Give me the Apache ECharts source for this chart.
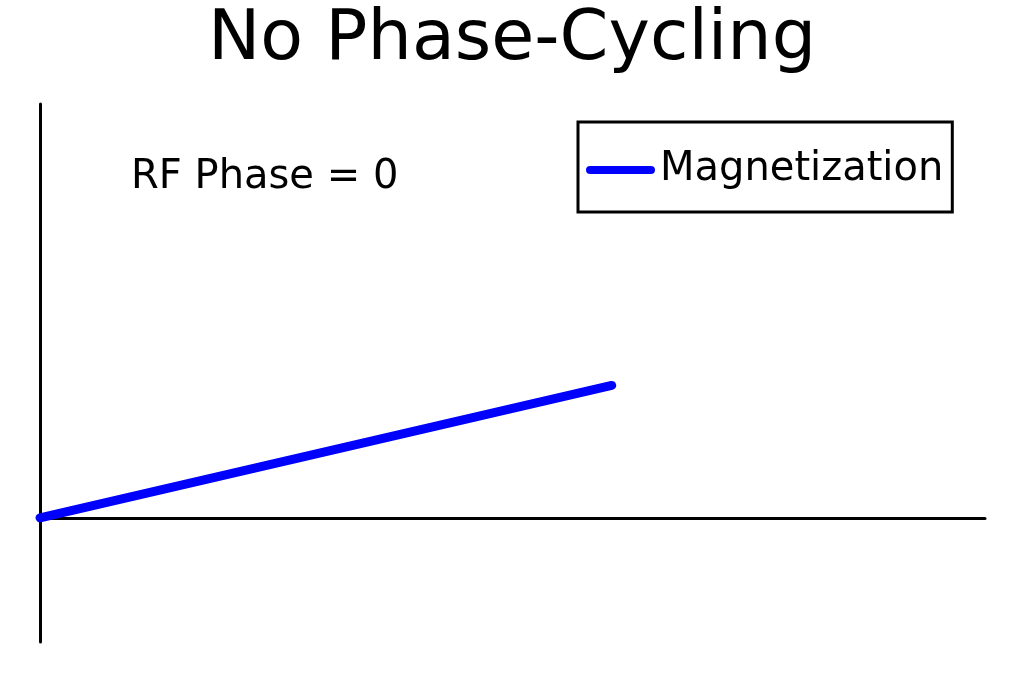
<!DOCTYPE html>
<html>
<head>
<meta charset="utf-8">
<style>
  html, body { margin: 0; padding: 0; background: #fff; }
  #chart { width: 1024px; height: 683px; }
</style>
<script src="https://cdn.jsdelivr.net/npm/echarts@6/dist/echarts.min.js"></script>
</head>
<body>
<div id="chart"></div>
<script>
var xValues = [0, 0.605];
var yValues = [0, 0.32];
var seriesName = 'Magnetization';
var annotation = 'RF Phase = 0';

var points = xValues.map(function (x, i) { return [x, yValues[i]]; });

var myChart = echarts.init(document.getElementById('chart'), null, { renderer: 'canvas' });
var font = 'DejaVu Sans';

myChart.setOption({
    animation: false,
    backgroundColor: '#fff',
    title: {
        text: 'No Phase-Cycling',
        left: 'center',
        top: 1,
        textStyle: { fontFamily: font, fontSize: 70, fontWeight: 'normal', color: '#000' }
    },
    legend: {
        left: 578,
        top: 122,
        padding: [26, 9, 20, 8],
        borderColor: '#000',
        borderWidth: 3,
        itemWidth: 69,
        itemHeight: 9,
        icon: 'path://M4,0 L63,0 A4,4 0 0 1 63,8 L4,8 A4,4 0 0 1 4,0 Z',
        textStyle: { fontFamily: font, fontSize: 40, color: '#000', lineHeight: 44 },
        data: [seriesName]
    },
    graphic: [{
        type: 'text',
        left: 131,
        top: 158,
        style: { text: annotation, font: '40px "DejaVu Sans"', fill: '#000' }
    }],
    grid: { left: 40, right: 39, top: 104, bottom: 41 },
    xAxis: {
        type: 'value',
        min: 0,
        max: 1,
        axisLine: { onZero: true, lineStyle: { color: '#000', width: 3 } },
        axisTick: { show: false },
        axisLabel: { show: false },
        splitLine: { show: false }
    },
    yAxis: {
        type: 'value',
        min: -0.3,
        max: 1,
        axisLine: { show: true, onZero: false, lineStyle: { color: '#000', width: 3 } },
        axisTick: { show: false },
        axisLabel: { show: false },
        splitLine: { show: false }
    },
    series: [{
        name: seriesName,
        type: 'line',
        data: points,
        showSymbol: false,
        lineStyle: { color: '#0000ff', width: 9, cap: 'round' },
        itemStyle: { color: '#0000ff' }
    }]
});
</script>
</body>
</html>
